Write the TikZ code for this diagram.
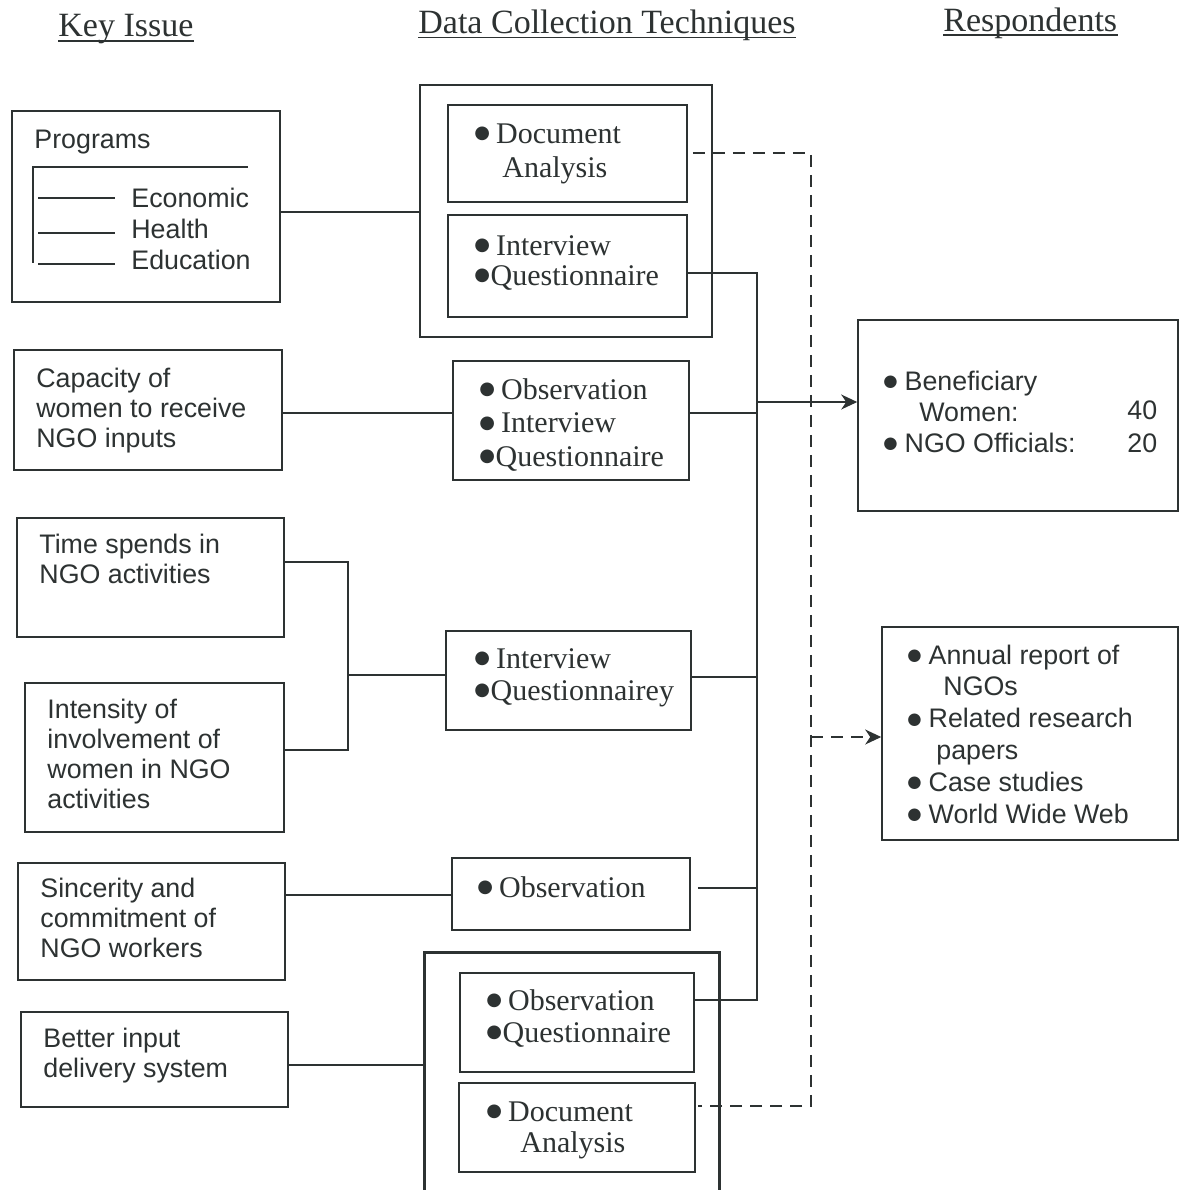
\documentclass[tikz,border=0pt]{standalone}
\usepackage{fontspec}
\setmainfont{Liberation Serif}
\setsansfont{Liberation Sans}
\newfontfamily\dvsans{DejaVu Sans}
\usetikzlibrary{arrows.meta,fit}
\definecolor{ink}{RGB}{45,50,50}
\newcommand{\bsr}{\raisebox{2.2pt}{\dvsans\fontsize{9}{9}\selectfont ●}}
\newcommand{\bsf}{\raisebox{1.8pt}{\dvsans\fontsize{8.2}{9}\selectfont ●}}
\begin{document}
\begin{tikzpicture}[x=0.5pt,y=-0.5pt,
  box/.style={draw=ink, line width=0.8pt, inner sep=0pt, rectangle},
  obox/.style={draw=ink, line width=1.2pt, inner sep=0pt, rectangle},
  ln/.style={draw=ink, line width=0.7pt},
  dsh/.style={draw=ink, line width=0.7pt, dash pattern=on 6pt off 4pt},
  sf/.style={anchor=base west, inner sep=0pt, align=left, text=ink, font=\sffamily\fontsize{13.4}{#1}\selectfont},
  sf/.default=15pt,
  rm/.style={anchor=base west, inner sep=0pt, align=left, text=ink, font=\rmfamily\fontsize{15}{#1}\selectfont},
  rm/.default=16pt,
  hd/.style={anchor=base west, inner sep=0pt, text=ink, font=\rmfamily\fontsize{17}{19}\selectfont},
  tip/.style={-{Stealth[length=8pt,width=7.5pt,inset=2.5pt]}}
]
\useasboundingbox (0,0) rectangle (1181,1190);
\fill[white] (0,0) rectangle (1181,1190);

% headers
\node[hd] (h1) at (58,36) {Key Issue};
\node[hd] (h2) at (418,33) {Data Collection Techniques};
\node[hd] (h3) at (943,31) {Respondents};
\draw[ink, line width=0.9pt] ([yshift=-2.5pt]h1.base west) -- ([yshift=-2.5pt]h1.base east);
\draw[ink, line width=0.9pt] ([yshift=-2.2pt]h2.base west) -- ([yshift=-2.2pt]h2.base east);
\draw[ink, line width=0.9pt] ([yshift=-2pt]h3.base west) -- ([yshift=-2pt]h3.base east);

% key issue boxes
\node[box, fit={(12,111) (280,302)}] (prog) {};
\node[box, fit={(14,350) (282,470)}] (cap) {};
\node[box, fit={(17,518) (284,637)}] (time) {};
\node[box, fit={(25,683) (284,832)}] (intens) {};
\node[box, fit={(18,863) (285,980)}] (sinc) {};
\node[box, fit={(21,1012) (288,1107)}] (better) {};

% technique boxes
\node[obox, fit={(420,85) (712,337)}] (outer1) {};
\node[box, fit={(448,105) (687,202)}] (A) {};
\node[box, fit={(448,215) (687,317)}] (B) {};
\node[box, fit={(453,361) (689,480)}] (obs3) {};
\node[box, fit={(446,631) (691,730)}] (intv) {};
\node[box, fit={(452,858) (690,930)}] (obs1) {};
\node[inner sep=0pt, fit={(425,953) (719,1190)}] (outer2) {};
\draw[ink, line width=1.2pt] (outer2.south west) -- (outer2.north west) -- (outer2.north east) -- (outer2.south east);
\node[box, fit={(460,973) (694,1072)}] (C) {};
\node[box, fit={(459,1083) (695,1172)}] (D) {};

% respondent boxes
\node[box, fit={(858,320) (1178,511)}] (resp1) {};
\node[box, fit={(882,627) (1178,840)}] (resp2) {};

% programs box content
\node[sf] (tprog) at (34,148) {Programs};
\draw[ln] (32,167) -- (248,167);
\draw[ln] (33,167) -- (33,263);
\draw[ln] (38,198) -- (115,198);
\draw[ln] (38,233) -- (115,233);
\draw[ln] (38,264) -- (115,264);
\node[sf=15.5pt] (tprogs) at (131,269) {Economic\\Health\\Education};

% left texts (anchor = baseline of last line)
\node[sf] (tcap) at (36,447) {Capacity of\\women to receive\\NGO inputs};
\node[sf] (ttim) at (39,583) {Time spends in\\NGO activities};
\node[sf] (tint) at (47,808) {Intensity of\\involvement of\\women in NGO\\activities};
\node[sf] (tsin) at (40,957) {Sincerity and\\commitment of\\NGO workers};
\node[sf] (tbet) at (43,1077) {Better input\\delivery system};

% technique texts
\node[rm=17pt] (ta) at (474,177) {\bsr\hspace{3pt}Document\\\hspace*{14pt}Analysis};
\node[rm=15pt] (tb) at (474,285) {\bsr\hspace{3pt}Interview\\\bsr\hspace{0.3pt}Questionnaire};
\node[rm=16.7pt] (to) at (479,466) {\bsr\hspace{3pt}Observation\\\bsr\hspace{3pt}Interview\\\bsr\hspace{0.3pt}Questionnaire};
\node[rm=16pt] (tv) at (474,700) {\bsr\hspace{3pt}Interview\\\bsr\hspace{0.3pt}Questionnairey};
\node[rm] (ts) at (477,897) {\bsr\hspace{3pt}Observation};
\node[rm=16pt] (tc) at (486,1042) {\bsr\hspace{3pt}Observation\\\bsr\hspace{0.3pt}Questionnaire};
\node[rm=15.5pt] (td) at (486,1152) {\bsr\hspace{3pt}Document\\\hspace*{17pt}Analysis};

% respondent texts
\node[sf=15.5pt] (tr) at (883,452) {\bsf\hspace{3.5pt}Beneficiary\\\hspace*{18pt}Women:\\\bsf\hspace{3.5pt}NGO Officials:};
\node[sf] (tr40) at (1127,419) {40};
\node[sf] (tr20) at (1127,452) {20};
\node[sf=15.9pt] (ts2) at (907,823) {\bsf\hspace{3.5pt}Annual report of\\\hspace*{18pt}NGOs\\\bsf\hspace{3.5pt}Related research\\\hspace*{14.5pt}papers\\\bsf\hspace{3.5pt}Case studies\\\bsf\hspace{3.5pt}World Wide Web};

% junction coordinates
\coordinate (br) at (348,675);
\coordinate (t1) at (757,273);
\coordinate (t2) at (757,1000);
\coordinate (d1) at (811,153);
\coordinate (d2) at (811,1106);
\coordinate (da) at (811,737);

% connectors
\draw[ln] (prog.east |- 0,212) -- (outer1.west |- 0,212);
\draw[ln] (cap.east |- 0,413) -- (obs3.west |- 0,413);
\draw[ln] (time.east |- 0,562) -| (br) |- (intens.east |- 0,750);
\draw[ln] (br) -- (intv.west |- br);
\draw[ln] (sinc.east |- 0,895) -- (obs1.west |- 0,895);
\draw[ln] (better.east |- 0,1065) -- (outer2.west |- 0,1065);

\draw[ln] (B.east |- t1) -- (t1) -- (t2) -- (C.east |- t2);
\draw[ln] (obs3.east |- 0,413) -- (t1 |- 0,413);
\draw[ln] (intv.east |- 0,677) -- (t1 |- 0,677);
\draw[ln, shorten <=3.5pt] (obs1.east |- 0,888) -- (t1 |- 0,888);
\draw[ln, tip] (t1 |- 0,402) -- (resp1.west |- 0,402);

\draw[dsh, shorten <=2.5pt, shorten >=1pt] (A.east |- d1) -- (d1) -- (d2) -- (D.east |- d2);
\draw[dsh, tip] (da) -- (resp2.west |- da);
\end{tikzpicture}
\end{document}
